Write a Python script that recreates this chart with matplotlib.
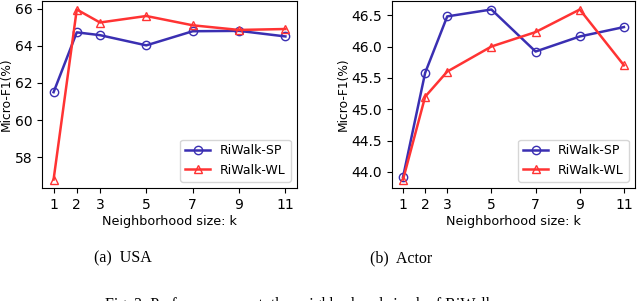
import matplotlib
matplotlib.use("Agg")
import matplotlib.pyplot as plt

k = [1, 2, 3, 5, 7, 9, 11]
usa_sp = [61.5, 64.72, 64.57, 64.02, 64.78, 64.8, 64.5]
usa_wl = [56.8, 65.95, 65.25, 65.6, 65.1, 64.85, 64.9]
actor_sp = [43.92, 45.58, 46.48, 46.59, 45.92, 46.16, 46.31]
actor_wl = [43.88, 45.2, 45.6, 46.0, 46.23, 46.59, 45.7]
labels = ["RiWalk-SP", "RiWalk-WL"]
captions = ["(a)  USA", "(b)  Actor"]
fig_caption = "Fig. 3: Performance w.r.t. the neighborhood size k of RiWalk"

blue = "#3a2fb2"
red = "#ff3333"

plt.rcParams['font.family'] = ['DejaVu Sans']
plt.rcParams['font.size'] = 10

fig = plt.figure(figsize=(6.4, 3.01), dpi=100)
ax1 = fig.add_axes([42/640, 1-188/301, 255/640, 187/301])
ax2 = fig.add_axes([392/640, 1-188/301, 243/640, 187/301])

for ax, sp, wl in [(ax1, usa_sp, usa_wl), (ax2, actor_sp, actor_wl)]:
    ax.plot(k, sp, color=blue, marker='o', mfc='none', mec=blue, ms=6, lw=1.8, label=labels[0])
    ax.plot(k, wl, color=red, marker='^', mfc='none', mec=red, ms=6, lw=1.8, label=labels[1])
    ax.set_xticks(k)
    ax.set_xlabel("Neighborhood size: k", labelpad=2, fontsize=9.2)
    ax.set_ylabel("Micro-F1(%)", labelpad=1.5, fontsize=8.8)
    ax.legend(loc='lower right', fontsize=9, handlelength=2.0)

ax1.set_yticks([58, 60, 62, 64, 66])
ax2.set_yticks([44.0, 44.5, 45.0, 45.5, 46.0, 46.5])
ax2.set_yticklabels(["44.0", "44.5", "45.0", "45.5", "46.0", "46.5"])

fig.text(123/640, 1-258/301, captions[0], ha='center', va='center',
         family='Liberation Serif', fontsize=11.5)
fig.text(401/640, 1-258/301, captions[1], ha='center', va='center',
         family='Liberation Serif', fontsize=11.5)
fig.text(105/640, 1-309/301, fig_caption, ha='left', va='baseline',
         family='Liberation Serif', fontsize=11.5)

fig.savefig("out.png", dpi=100)
